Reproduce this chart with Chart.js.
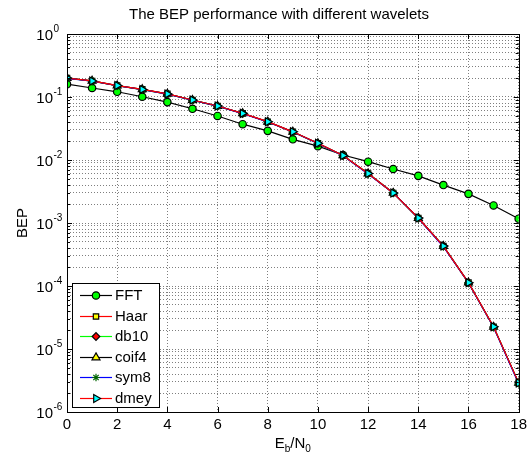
<!DOCTYPE html>
<html>
<head>
<meta charset="utf-8">
<script src="https://cdn.jsdelivr.net/npm/chart.js@4.4.1/dist/chart.umd.min.js"></script>
<style>
  html, body { margin: 0; padding: 0; background: #fff; }
  #wrap { width: 531px; height: 457px; }
</style>
</head>
<body>
<div id="wrap"><canvas id="bepChart" width="531" height="457"></canvas></div>
<script>
// Eb/N0 points (dB)
const ebno = [0, 1, 2, 3, 4, 5, 6, 7, 8, 9, 10, 11, 12, 13, 14, 15, 16, 17, 18];

// BEP values
const fft  = [0.160, 0.139, 0.121, 0.101, 0.083, 0.065, 0.050, 0.037, 0.029, 0.0213, 0.0166, 0.0120, 0.0094, 0.0072, 0.0056, 0.0040, 0.0029, 0.0019, 0.00117];
const haar = [0.200, 0.180, 0.152, 0.132, 0.112, 0.0895, 0.072, 0.055, 0.0406, 0.028, 0.0184, 0.0118, 0.0061, 0.0030, 0.00120, 0.00043, 0.000113, 0.0000225, 0.0000029];
const db10 = [0.199, 0.179, 0.151, 0.131, 0.111, 0.0890, 0.0716, 0.0547, 0.0404, 0.0279, 0.0183, 0.0117, 0.0061, 0.0030, 0.00119, 0.00043, 0.000112, 0.0000223, 0.0000029];
const coif4 = [0.200, 0.180, 0.152, 0.132, 0.112, 0.0893, 0.0718, 0.0549, 0.0405, 0.0280, 0.0184, 0.0118, 0.0061, 0.0030, 0.00120, 0.00043, 0.000113, 0.0000224, 0.0000029];
const sym8 = [0.198, 0.179, 0.151, 0.131, 0.111, 0.0888, 0.0715, 0.0546, 0.0403, 0.0278, 0.0183, 0.0117, 0.0060, 0.0030, 0.00119, 0.00042, 0.000112, 0.0000222, 0.0000028];
const dmey = [0.200, 0.180, 0.152, 0.132, 0.112, 0.0895, 0.072, 0.055, 0.0406, 0.028, 0.0184, 0.0118, 0.0061, 0.0030, 0.00120, 0.00043, 0.000113, 0.0000225, 0.0000029];

// axis ticks
const xTicks = [0, 2, 4, 6, 8, 10, 12, 14, 16, 18];
const yExps = [0, -1, -2, -3, -4, -5, -6];

const FONT = '"Liberation Sans", Arial, Helvetica, sans-serif';

// series style: [label, data, line color, marker, fill, radius, rotation]
const seriesList = [
    ['FFT', fft, '#000000', 'circle', '#00ff00', 3.7, 0],
    ['Haar', haar, '#ff0000', 'rect', '#ffff00', 3.8, 0],
    ['db10', db10, '#00ff00', 'rectRot', '#ff0000', 3.8, 0],
    ['coif4', coif4, '#000000', 'triangle', '#ffff00', 4.6, 0],
    ['sym8', sym8, '#0000ff', 'star', '#00aa00', 3.8, 0],
    ['dmey', dmey, '#ff0000', 'triangle', '#00ffff', 4.6, 90],
];

const datasets = seriesList.map((s, i) => ({
    label: s[0],
    data: ebno.map((x, k) => ({ x: x, y: s[1][k] })),
    borderColor: s[2],
    borderWidth: 1.2,
    pointStyle: s[3],
    pointBackgroundColor: s[4],
    pointBorderColor: s[3] === 'star' ? '#006600' : '#000000',
    pointBorderWidth: 1.2,
    pointRadius: s[5],
    pointRotation: s[6],
    fill: false,
    tension: 0,
    order: seriesList.length - i, // later series drawn on top, like MATLAB
}));

// all decade + minor tick values for the log grid
const logTickValues = [];
for (let e = -6; e < 0; e++) {
    for (let m = 1; m <= 9; m++) logTickValues.push(m * Math.pow(10, e));
}
logTickValues.push(1);

const decoPlugin = {
    id: 'matlabDeco',
    beforeDraw(chart) {
        const ctx = chart.ctx;
        ctx.save();
        ctx.fillStyle = '#ffffff';
        ctx.fillRect(0, 0, chart.width, chart.height);
        ctx.restore();
    },
    afterDraw(chart) {
        const ctx = chart.ctx;
        const a = chart.chartArea;
        const xs = chart.scales.x;
        const ys = chart.scales.y;
        ctx.save();

        // frame
        ctx.strokeStyle = '#000';
        ctx.lineWidth = 1;
        ctx.strokeRect(Math.round(a.left) + 0.5, Math.round(a.top) + 0.5,
            Math.round(a.right - a.left), Math.round(a.bottom - a.top));

        // inward tick marks
        ctx.beginPath();
        xTicks.forEach(v => {
            const px = Math.round(xs.getPixelForValue(v)) + 0.5;
            ctx.moveTo(px, a.bottom); ctx.lineTo(px, a.bottom - 5);
            ctx.moveTo(px, a.top); ctx.lineTo(px, a.top + 5);
        });
        logTickValues.forEach(v => {
            const py = Math.round(ys.getPixelForValue(v)) + 0.5;
            const major = Math.abs(Math.log10(v) - Math.round(Math.log10(v))) < 1e-9;
            const len = major ? 5 : 3;
            ctx.moveTo(a.left, py); ctx.lineTo(a.left + len, py);
            ctx.moveTo(a.right, py); ctx.lineTo(a.right - len, py);
        });
        ctx.stroke();

        ctx.fillStyle = '#000';

        // y tick labels 10^n
        yExps.forEach(e => {
            const py = ys.getPixelForValue(Math.pow(10, e));
            ctx.font = '15px ' + FONT;
            ctx.textAlign = 'right';
            ctx.textBaseline = 'alphabetic';
            ctx.fillText('10', 53, py + 5.5);
            ctx.font = '10px ' + FONT;
            ctx.textAlign = 'left';
            ctx.fillText(e === 0 ? '0' : '-' + (-e), 53.5, py - 2);
        });

        // title
        ctx.font = '15px ' + FONT;
        ctx.textAlign = 'center';
        ctx.textBaseline = 'alphabetic';
        ctx.fillText('The BEP performance with different wavelets', 279, 19);

        // y axis title
        ctx.save();
        ctx.translate(27, (a.top + a.bottom) / 2);
        ctx.rotate(-Math.PI / 2);
        ctx.textAlign = 'center';
        ctx.fillText('BEP', 0, 0);
        ctx.restore();

        // x axis title E_b/N_0
        const parts = [['E', 15, 0], ['b', 10, 4], ['/N', 15, 0], ['0', 10, 4]];
        let total = 0;
        parts.forEach(p => { ctx.font = p[1] + 'px ' + FONT; total += ctx.measureText(p[0]).width; });
        let cx = (a.left + a.right) / 2 - total / 2;
        ctx.textAlign = 'left';
        parts.forEach(p => {
            ctx.font = p[1] + 'px ' + FONT;
            ctx.fillText(p[0], cx, 448 + p[2]);
            cx += ctx.measureText(p[0]).width;
        });

        // legend box
        const lx = 72, ly = 283, lw = 87, lh = 124;
        ctx.fillStyle = '#fff';
        ctx.fillRect(lx, ly, lw, lh);
        ctx.strokeStyle = '#000';
        ctx.strokeRect(lx + 0.5, ly + 0.5, lw, lh);
        datasets.forEach((ds, i) => {
            const ry = 295 + i * 20.5;
            ctx.strokeStyle = ds.borderColor;
            ctx.lineWidth = 1.2;
            ctx.beginPath();
            ctx.moveTo(80, Math.round(ry) + 0.5);
            ctx.lineTo(112, Math.round(ry) + 0.5);
            ctx.stroke();
            ctx.fillStyle = ds.pointBackgroundColor;
            ctx.strokeStyle = ds.pointBorderColor;
            Chart.helpers.drawPoint(ctx, {
                pointStyle: ds.pointStyle,
                radius: ds.pointRadius,
                rotation: ds.pointRotation,
                borderWidth: 1.2,
            }, 96, Math.round(ry) + 0.5);
            ctx.fillStyle = '#000';
            ctx.font = '15px ' + FONT;
            ctx.textAlign = 'left';
            ctx.textBaseline = 'middle';
            ctx.fillText(ds.label, 115, ry + 1);
        });

        ctx.restore();
    }
};

new Chart(document.getElementById('bepChart'), {
    type: 'line',
    data: { datasets },
    options: {
        responsive: false,
        animation: false,
        devicePixelRatio: 1,
        layout: { padding: { top: 34, right: 10, left: 0, bottom: 0 } },
        plugins: {
            legend: { display: false },
            title: { display: false },
            tooltip: { enabled: false },
        },
        scales: {
            x: {
                type: 'linear',
                min: 0,
                max: 18,
                afterBuildTicks: (scale) => { scale.ticks = xTicks.map(v => ({ value: v })); },
                afterFit: (scale) => { scale.height = 45; },
                ticks: {
                    color: '#000',
                    font: { family: FONT, size: 15 },
                    padding: 4,
                    maxRotation: 0,
                    autoSkip: false,
                    callback: (v) => String(v),
                },
                grid: {
                    color: 'rgba(0,0,0,0.5)',
                    lineWidth: 1,
                    drawTicks: false,
                },
                border: { display: false, dash: [1, 2] },
            },
            y: {
                type: 'logarithmic',
                min: 1e-6,
                max: 1,
                afterBuildTicks: (scale) => { scale.ticks = logTickValues.map(v => ({ value: v })); },
                afterFit: (scale) => { scale.width = 67; },
                ticks: { display: false },
                grid: {
                    color: 'rgba(0,0,0,0.5)',
                    lineWidth: 1,
                    drawTicks: false,
                },
                border: { display: false, dash: [1, 2] },
            },
        },
    },
    plugins: [decoPlugin],
});
</script>
</body>
</html>
